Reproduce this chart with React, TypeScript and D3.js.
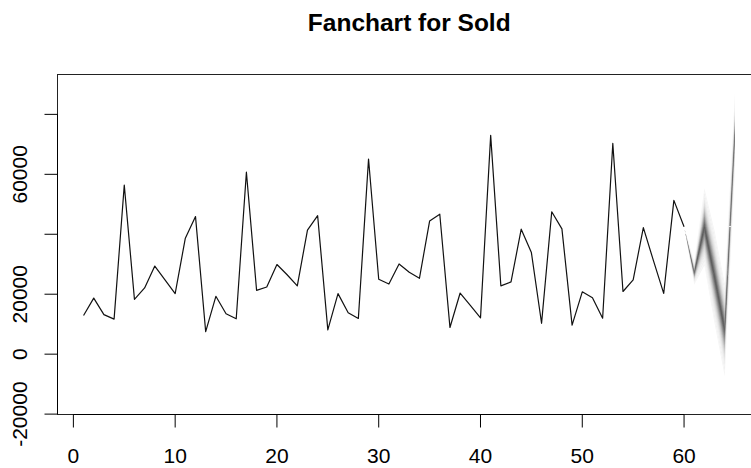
import React from "react";
import * as d3 from "d3";

// ---- data ----
const title = "Fanchart for Sold";
const soldTime = d3.range(1, 61);
const sold = [
  12900, 18700, 13200, 11700, 56400, 18300, 22100, 29400, 24800, 20200,
  38700, 45900, 7500, 19300, 13500, 11800, 60700, 21300, 22400, 29900,
  26500, 22800, 41400, 46200, 8100, 20200, 13800, 11900, 65100, 25000,
  23400, 30100, 27300, 25300, 44400, 46700, 8900, 20400, 16300, 12100,
  73000, 22800, 24100, 41700, 33900, 10300, 47500, 41800, 9700, 20800,
  18800, 12000, 70300, 20900, 24800, 42200, 31100, 20300, 51300, 42500,
];
const forecastTime = [61, 62, 63, 64, 65];
const forecastMedian = [27000, 42500, 25700, 8000, 74500];
const forecastSd = [1500, 5000, 6000, 6000, 5000];

const xTicks = [0, 10, 20, 30, 40, 50, 60];
const xTickLabels = ["0", "10", "20", "30", "40", "50", "60"];
const yTicks = [-20000, 0, 20000, 40000, 60000, 80000];
const yTickLabels = ["-20000", "0", "20000", "", "60000", ""];

// coverage levels of the fan bands (inner to outer)
const fanLevels = [0.02, 0.04, 0.06, 0.08, 0.1, 0.12, 0.14, 0.16, 0.18, 0.2,
  0.22, 0.24, 0.26, 0.28, 0.3, 0.32, 0.34, 0.36, 0.38, 0.4, 0.42, 0.44, 0.46,
  0.48, 0.5, 0.52, 0.54, 0.56, 0.58, 0.6, 0.62, 0.64, 0.66, 0.68, 0.7, 0.72,
  0.74, 0.76, 0.78, 0.8, 0.82, 0.84, 0.86, 0.88, 0.9, 0.92, 0.94, 0.96, 0.98, 0.99];

// ---- helpers ----
function erf(x: number) {
  const s = Math.sign(x);
  const a = Math.abs(x);
  const t = 1 / (1 + 0.3275911 * a);
  const y =
    1 -
    (((((1.061405429 * t - 1.453152027) * t + 1.421413741) * t - 0.284496736) * t +
      0.254829592) *
      t) *
      Math.exp(-a * a);
  return s * y;
}
function zForCoverage(c: number) {
  let lo = 0, hi = 6;
  for (let i = 0; i < 60; i++) {
    const mid = (lo + hi) / 2;
    if (erf(mid / Math.SQRT2) < c) lo = mid; else hi = mid;
  }
  return (lo + hi) / 2;
}

const W = 751, H = 468;
const left = 57.5, right = 761, top = 74.5, bottom = 414.5;

export default function App() {
  const x = d3.scaleLinear().domain([-1.56, 67.56]).range([left, right]);
  const y = d3.scaleLinear().domain([-20130, 93300]).range([bottom, top]);

  const line = d3
    .line<number>()
    .x((_, i) => x(soldTime[i]))
    .y((d) => y(d));

  const lastT = soldTime[soldTime.length - 1];
  const lastV = sold[sold.length - 1];
  const fanT = [lastT, ...forecastTime];
  const fanM = [lastV, ...forecastMedian];
  const fanS = [0, ...forecastSd];

  const interp = d3.interpolateRgb("#0c0c0c", "#f8f8f8");
  const color = (c: number) => interp(Math.pow(c, 1.4));

  // non-overlapping rings, like fanplot's percentile polygons
  const zs = fanLevels.map(zForCoverage);
  const rings: { key: string; d: string; fill: string }[] = [];
  zs.forEach((z, k) => {
    const zin = k === 0 ? -z : zs[k - 1];
    const upper = d3
      .area<number>()
      .x((_, i) => x(fanT[i]))
      .y0((_, i) => y(fanM[i] + zin * fanS[i]))
      .y1((_, i) => y(fanM[i] + z * fanS[i]));
    rings.push({ key: "u" + k, d: upper(fanT) as string, fill: color(fanLevels[k]) });
    if (k > 0) {
      const lower = d3
        .area<number>()
        .x((_, i) => x(fanT[i]))
        .y0((_, i) => y(fanM[i] - zin * fanS[i]))
        .y1((_, i) => y(fanM[i] - z * fanS[i]));
      rings.push({ key: "l" + k, d: lower(fanT) as string, fill: color(fanLevels[k]) });
    }
  });

  const font = "'Liberation Sans', Arial, Helvetica, sans-serif";

  return (
    <svg
      width={W}
      height={H}
      style={{ position: "absolute", left: 0, top: 0, background: "#fff" }}
      fontFamily={font}
    >
      <rect x={0} y={0} width={W} height={H} fill="#fff" />
      <text x={(left + right) / 2} y={31} textAnchor="middle" fontSize={24.5} fontWeight="bold" fill="#000">
        {title}
      </text>

      {/* series line */}
      <path d={line(sold) as string} fill="none" stroke="#111" strokeWidth={1.2} strokeLinejoin="round" />

      {/* fan */}
      {rings.map((r) => (
        <path key={r.key} d={r.d} fill={r.fill} stroke="none" />
      ))}

      {/* box */}
      <rect x={left} y={top} width={right - left} height={bottom - top} fill="none" stroke="#222" strokeWidth={1} />

      {/* y axis */}
      <line x1={left} x2={left} y1={y(yTicks[0])} y2={y(yTicks[yTicks.length - 1])} stroke="#000" strokeWidth={1} />
      {yTicks.map((t, i) => (
        <g key={t}>
          <line x1={left - 13} x2={left} y1={y(t)} y2={y(t)} stroke="#000" strokeWidth={1} />
          {yTickLabels[i] && (
            <text
              transform={`translate(${27},${y(t)}) rotate(-90)`}
              textAnchor="middle"
              fontSize={21}
              fill="#000"
            >
              {yTickLabels[i]}
            </text>
          )}
        </g>
      ))}

      {/* x axis */}
      <line x1={x(xTicks[0])} x2={x(xTicks[xTicks.length - 1])} y1={bottom} y2={bottom} stroke="#000" strokeWidth={1} />
      {xTicks.map((t, i) => (
        <g key={t}>
          <line x1={x(t)} x2={x(t)} y1={bottom} y2={bottom + 13} stroke="#000" strokeWidth={1} />
          <text x={x(t)} y={462.5} textAnchor="middle" fontSize={21} fill="#000">
            {xTickLabels[i]}
          </text>
        </g>
      ))}
    </svg>
  );
}
